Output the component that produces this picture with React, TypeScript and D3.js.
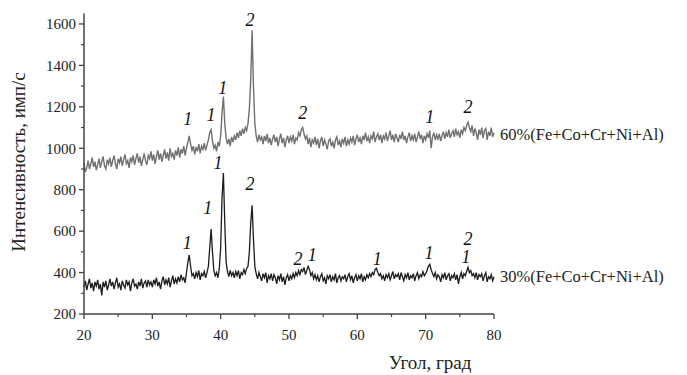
import * as d3 from "d3";

const W = 687;
const H = 375;

// sampled every 0.2 degrees, from 20 to 80
const angleStart = 20;
const angleStep = 0.2;

const series60 = [
  930, 885, 905, 940, 900, 925, 955, 910, 935, 895,
  920, 950, 905, 935, 960, 915, 900, 945, 925, 955,
  910, 940, 965, 925, 900, 950, 930, 960, 915, 945,
  970, 925, 940, 905, 955, 935, 965, 920, 950, 975,
  930, 960, 915, 945, 975, 940, 920, 965, 950, 985,
  940, 970, 925, 960, 990, 945, 975, 935, 965, 995,
  950, 980, 940, 1000, 960, 975, 945, 990, 965, 1005,
  955, 995, 975, 1010, 965, 1000, 1030, 1060, 1020, 990,
  1010, 970, 1005, 985, 1020, 975, 1010, 995, 1025, 990,
  1015, 1040, 1075, 1090, 1035, 1000, 1015, 985, 1030, 1010,
  1060, 1170, 1250, 1120, 1050, 1020, 1045, 1010, 1055, 1030,
  1060, 1040, 1075, 1050, 1085, 1060, 1095, 1070, 1100, 1085,
  1120, 1190, 1330, 1570, 1300, 1120, 1060, 1030, 1065, 1040,
  1055, 1020, 1060, 1035, 1070, 1025, 1050, 1015, 1045, 1065,
  1030, 1055, 1010, 1045, 1070, 1025, 1050, 1005, 1040, 1060,
  1025, 1055, 1035, 1065, 1020, 1050, 1040, 1075, 1060, 1090,
  1100, 1070, 1045, 1060, 1020, 1050, 1005, 1040, 1025, 1055,
  1015, 1045, 1000, 1035, 1055, 1010, 1040, 1020, 995, 1035,
  1045, 1010, 1030, 1000, 1040, 1055, 1015, 1035, 1005, 1045,
  1025, 1055, 1010, 1040, 1020, 1050, 1030, 1060, 1015, 1045,
  1065, 1030, 1050, 1020, 1060, 1040, 1075, 1035, 1055, 1025,
  1060, 1045, 1080, 1030, 1055, 1070, 1040, 1065, 1025, 1060,
  1045, 1075, 1035, 1060, 1085, 1040, 1065, 1030, 1070, 1050,
  1030, 1065, 1045, 1080, 1040, 1060, 1025, 1055, 1075, 1035,
  1060, 1040, 1070, 1030, 1055, 1080, 1045, 1065, 1025, 1060,
  1040, 1070, 1050, 1085, 1000, 1055, 1075, 1040, 1065, 1045,
  1070, 1035, 1060, 1080, 1045, 1075, 1055, 1090, 1050, 1070,
  1085, 1055, 1095, 1065, 1080, 1050, 1090, 1070, 1100, 1085,
  1110, 1125, 1100, 1080, 1110, 1060, 1095, 1075, 1040, 1090,
  1065, 1100, 1050, 1085, 1095, 1040, 1080, 1060, 1100, 1055,
  1075,
];

const series30 = [
  330, 360, 315, 345, 370, 325, 350, 310, 355, 335,
  365, 320, 345, 290, 355, 330, 360, 315, 340, 370,
  335, 355, 320, 350, 375, 330, 345, 315, 360, 340,
  325, 365, 340, 355, 310, 350, 370, 335, 345, 320,
  355, 335, 370, 325, 350, 360, 330, 365, 340, 355,
  330, 365, 345, 375, 335, 355, 320, 360, 380, 340,
  365, 345, 375, 330, 360, 385, 345, 370, 350, 380,
  355, 390, 365, 375, 350, 400, 450, 485, 430, 385,
  395, 370, 400, 380, 410, 365, 395, 385, 405, 375,
  400, 430, 520, 610, 500, 410, 385, 400, 375, 420,
  520, 760, 880, 640, 450, 405, 380, 410, 385, 400,
  375, 405, 385, 410, 370, 400, 390, 415, 395, 420,
  430, 500, 640, 725, 560, 430, 395, 370, 400, 380,
  360, 395, 375, 400, 350, 385, 370, 395, 360, 390,
  375, 345, 385, 365, 395, 355, 380, 340, 375, 390,
  360, 385, 370, 395, 375, 400, 385, 410, 390, 415,
  405, 425, 390, 410, 430, 415, 385, 400, 370, 390,
  365, 385, 355, 380, 395, 360, 375, 345, 385, 370,
  390, 355, 380, 365, 395, 350, 375, 385, 360, 380,
  370, 390, 355, 380, 395, 365, 385, 350, 375, 390,
  360, 385, 370, 395, 355, 380, 365, 390, 375, 395,
  380, 400, 390, 415, 420, 400, 385, 395, 370, 385,
  360, 390, 375, 395, 365, 385, 405, 370, 390, 380,
  395, 365, 400, 380, 360, 390, 375, 400, 365, 385,
  375, 395, 360, 385, 400, 370, 390, 380, 405, 385,
  395, 410, 430, 440, 415, 395, 380, 400, 370, 390,
  380, 355, 390, 375, 400, 365, 385, 395, 360, 385,
  375, 395, 365, 390, 345, 380, 400, 370, 395, 385,
  405, 425, 400, 410, 385, 395, 375, 400, 365, 390,
  380, 395, 360, 385, 400, 355, 380, 370, 390, 360,
  380,
];

// phase labels: [angle, intensity, text]
const labels60: [number, number, string][] = [
  [35.2, 1141, "1"],
  [38.6, 1161, "1"],
  [40.3, 1291, "1"],
  [44.3, 1619, "2"],
  [52.0, 1170, "2"],
  [70.6, 1151, "1"],
  [76.2, 1199, "2"],
];
const labels30: [number, number, string][] = [
  [35.1, 543, "1"],
  [38.1, 712, "1"],
  [39.6, 929, "1"],
  [44.3, 828, "2"],
  [51.3, 466, "2"],
  [53.4, 485, "1"],
  [62.9, 466, "1"],
  [70.5, 494, "1"],
  [75.9, 475, "1"],
  [76.2, 562, "2"],
];

const seriesNames = ["60%(Fe+Co+Cr+Ni+Al)", "30%(Fe+Co+Cr+Ni+Al)"];
const xTicks = [20, 30, 40, 50, 60, 70, 80];
const xMinor = [25, 35, 45, 55, 65, 75];
const yTicks = [200, 400, 600, 800, 1000, 1200, 1400, 1600];
const yMinor = [300, 500, 700, 900, 1100, 1300, 1500];

const font = "'Times New Roman', 'Liberation Serif', 'DejaVu Serif', serif";

const x = d3.scaleLinear().domain([20, 80]).range([84, 494]);
const y = d3.scaleLinear().domain([200, 1650]).range([314, 13.6]);

const line = d3
  .line<number>()
  .x((_, i) => x(angleStart + i * angleStep))
  .y((d) => y(d));

export default function App() {
  return (
    <svg
      width={W}
      height={H}
      style={{ position: "absolute", left: 0, top: 0, background: "#fff" }}
    >
      <path d={line(series60) || ""} fill="none" stroke="#707070" strokeWidth={1.4} />
      <path d={line(series30) || ""} fill="none" stroke="#1c1c1c" strokeWidth={1.3} />

      {/* axes */}
      <line x1={x(20)} x2={x(20)} y1={y(1650)} y2={y(200)} stroke="#444" strokeWidth={1.5} />
      <line x1={x(20)} x2={x(80)} y1={y(200)} y2={y(200)} stroke="#444" strokeWidth={1.5} />
      {yTicks.map((t) => (
        <g key={"y" + t}>
          <line x1={x(20) - 5} x2={x(20)} y1={y(t)} y2={y(t)} stroke="#444" strokeWidth={1.3} />
          <text x={x(20) - 8} y={y(t)} dy="0.35em" textAnchor="end" fontSize={15} fill="#222" fontFamily={font}>
            {t}
          </text>
        </g>
      ))}
      {yMinor.map((t) => (
        <line key={"ym" + t} x1={x(20) - 3} x2={x(20)} y1={y(t)} y2={y(t)} stroke="#444" strokeWidth={1.2} />
      ))}
      {xTicks.map((t) => (
        <g key={"x" + t}>
          <line x1={x(t)} x2={x(t)} y1={y(200)} y2={y(200) + 5} stroke="#444" strokeWidth={1.3} />
          <text x={x(t)} y={y(200) + 21} dy="0.35em" textAnchor="middle" fontSize={15} fill="#222" fontFamily={font}>
            {t}
          </text>
        </g>
      ))}
      {xMinor.map((t) => (
        <line key={"xm" + t} x1={x(t)} x2={x(t)} y1={y(200)} y2={y(200) + 3} stroke="#444" strokeWidth={1.2} />
      ))}

      {/* phase labels */}
      {[...labels60, ...labels30].map(([a, v, s], i) => (
        <text
          key={"l" + i}
          x={x(a)}
          y={y(v)}
          dy="0.35em"
          textAnchor="middle"
          fontSize={18}
          fontStyle="italic"
          fill="#111"
          fontFamily={font}
        >
          {s}
        </text>
      ))}

      {/* series names */}
      <text x={500} y={y(1068)} dy="0.35em" fontSize={16.5} fill="#222" fontFamily={font}>
        {seriesNames[0]}
      </text>
      <text x={500} y={y(382)} dy="0.35em" fontSize={16.5} fill="#222" fontFamily={font}>
        {seriesNames[1]}
      </text>

      {/* axis titles */}
      <text x={430} y={362} dy="0.35em" textAnchor="middle" fontSize={19} fill="#222" fontFamily={font}>
        Угол, град
      </text>
      <text
        transform={`translate(18,162) rotate(-90)`}
        dy="0.35em"
        textAnchor="middle"
        fontSize={19}
        fill="#222"
        fontFamily={font}
      >
        Интенсивность, имп/с
      </text>
    </svg>
  );
}
